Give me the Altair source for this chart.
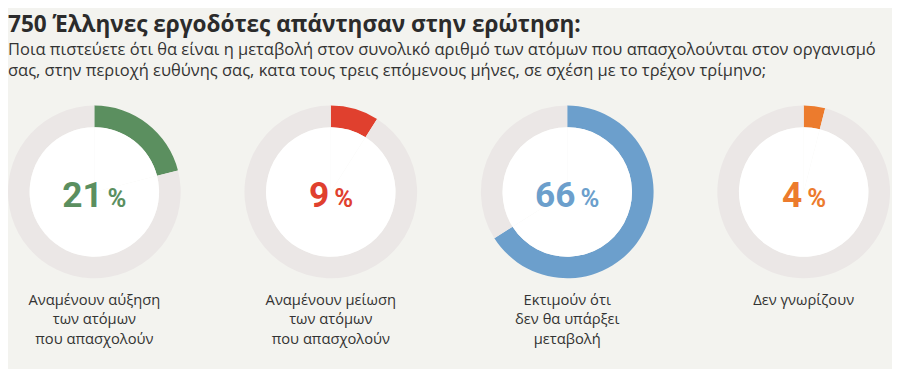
import altair as alt
import pandas as pd

title = "750 Έλληνες εργοδότες απάντησαν στην ερώτηση:"
subtitle = [
    "Ποια πιστεύετε ότι θα είναι η μεταβολή στον συνολικό αριθμό των ατόμων που απασχολούνται στον οργανισμό",
    "σας, στην περιοχή ευθύνης σας, κατα τους τρεις επόμενους μήνες, σε σχέση με το τρέχον τρίμηνο;",
]
labels = [
    "Αναμένουν αύξηση\nτων ατόμων\nπου απασχολούν",
    "Αναμένουν μείωση\nτων ατόμων\nπου απασχολούν",
    "Εκτιμούν ότι\nδεν θα υπάρξει\nμεταβολή",
    "Δεν γνωρίζουν",
]
values = [21, 9, 66, 4]
colors = ["#5b8f5f", "#e0402e", "#6c9fcc", "#ec7b2d"]
ring_grey = "#ebe7e6"
bg = "#f3f3ef"

W = 176
R_OUT = 88
R_IN = 66
DIGIT_W = 20
GAP = 5
PCT_W = 18

panels = []
for lab, v, col in zip(labels, values, colors):
    df = pd.DataFrame({
        "part": ["value", "rest"],
        "pct": [v, 100 - v],
        "order": [0, 1],
        "colour": [col, ring_grey],
        "num": [str(v), ""],
        "label": [lab, ""],
    })
    base = alt.Chart(df)
    ring = base.mark_arc(outerRadius=R_OUT, innerRadius=R_IN).encode(
        theta=alt.Theta("pct:Q", stack=True),
        color=alt.Color("colour:N", scale=None),
        order=alt.Order("order:Q"),
    )
    disk = base.mark_arc(outerRadius=R_IN, innerRadius=0).encode(
        theta=alt.Theta("pct:Q", stack=True),
        color=alt.value("#ffffff"),
        order=alt.Order("order:Q"),
    )
    n = len(str(v))
    num_right = (n * DIGIT_W - GAP - PCT_W) / 2
    txt_base = base.transform_filter(alt.datum.part == "value")
    num = txt_base.mark_text(
        align="right", baseline="alphabetic", font="Roboto", fontWeight="bold",
        fontSize=36, dx=num_right, color=col,
    ).encode(text="num:N", x=alt.value(W / 2), y=alt.value(103))
    pct = txt_base.mark_text(
        align="left", baseline="alphabetic", font="Roboto", fontWeight="bold",
        fontSize=26, dx=num_right + GAP, color=col,
    ).encode(text=alt.value("%"), x=alt.value(W / 2), y=alt.value(103))
    lbl = txt_base.mark_text(
        align="center", baseline="alphabetic", font="Open Sans", fontSize=15,
        lineBreak="\n", lineHeight=20, color="#333333",
    ).encode(text="label:N", x=alt.value(W / 2), y=alt.value(203))
    panels.append(
        alt.layer(ring, disk, num, pct, lbl).properties(width=W, height=W)
    )

chart = alt.hconcat(*panels, spacing=65).properties(
    title=alt.TitleParams(
        text=title,
        subtitle=subtitle,
        anchor="start",
        font="Open Sans",
        fontSize=23,
        fontWeight="bold",
        color="#2b2b2b",
        subtitleFont="Open Sans",
        subtitleFontSize=16.8,
        subtitleColor="#333333",
        subtitleLineHeight=22,
        subtitlePadding=5,
        offset=26,
    ),
    padding={"left": 0, "top": 3, "right": 2, "bottom": 20},
    background=bg,
).configure_view(stroke=None)

chart.save("out.html", embed_options={"renderer": "svg", "actions": False})
